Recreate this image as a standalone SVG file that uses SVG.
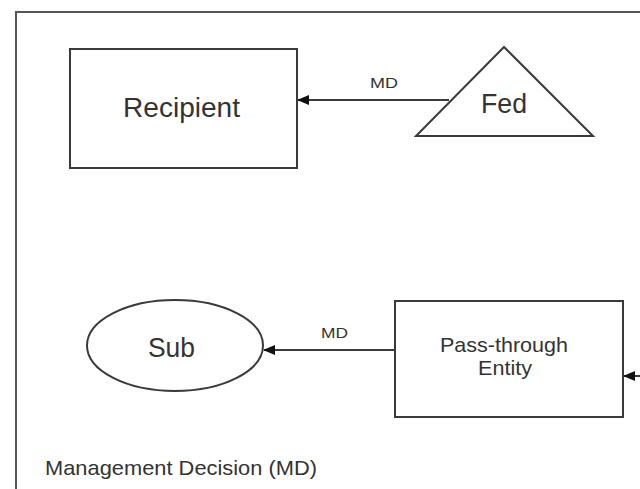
<svg xmlns="http://www.w3.org/2000/svg" width="640" height="489" viewBox="0 0 640 489">
<style>
.shape{fill:#fff;stroke:#3a3a3a;stroke-width:2}
.conn{stroke:#3a3a3a;stroke-width:2;fill:none}
text{font-family:"Liberation Sans",Arial,sans-serif;fill:#333}
.big{font-size:27px}
.mid{font-size:21px}
.small{font-size:15px}
</style>
<defs>
<marker id="ah" markerWidth="12" markerHeight="10" refX="11" refY="5" orient="auto" markerUnits="userSpaceOnUse">
<path d="M0,0 L12,5 L0,10 Z" fill="#111"/>
</marker>
</defs>
<rect width="640" height="489" fill="#fff"/>
<g id="frame">
<path d="M16,489 V12 H640" fill="none" stroke="#555" stroke-width="2"/>
</g>
<g id="connectors">
<line class="conn" x1="449" y1="100" x2="298" y2="100" marker-end="url(#ah)"/>
<text class="small" x="370" y="88" textLength="28" lengthAdjust="spacingAndGlyphs">MD</text>
<line class="conn" x1="395" y1="350" x2="264" y2="350" marker-end="url(#ah)"/>
<text class="small" x="321" y="338" textLength="27" lengthAdjust="spacingAndGlyphs">MD</text>
<line class="conn" x1="640" y1="376" x2="624" y2="376" marker-end="url(#ah)"/>
</g>
<g id="recipient">
<rect class="shape" x="70" y="49" width="227" height="119"/>
<text class="big" x="123" y="117" textLength="117" lengthAdjust="spacingAndGlyphs">Recipient</text>
</g>
<g id="fed">
<polygon class="shape" points="504,47 416,136 593,136"/>
<text class="big" x="481" y="113" textLength="46" lengthAdjust="spacingAndGlyphs">Fed</text>
</g>
<g id="sub">
<ellipse class="shape" cx="175" cy="345.5" rx="88" ry="45.5"/>
<text class="big" x="148" y="357" textLength="47" lengthAdjust="spacingAndGlyphs">Sub</text>
</g>
<g id="passthrough">
<rect class="shape" x="395" y="301" width="228" height="116"/>
<text class="mid" x="440" y="352" textLength="128" lengthAdjust="spacingAndGlyphs">Pass-through</text>
<text class="mid" x="478" y="375" textLength="54" lengthAdjust="spacingAndGlyphs">Entity</text>
</g>
<g id="legend">
<text class="mid" x="45" y="475" textLength="272" lengthAdjust="spacingAndGlyphs">Management Decision (MD)</text>
</g>
</svg>
